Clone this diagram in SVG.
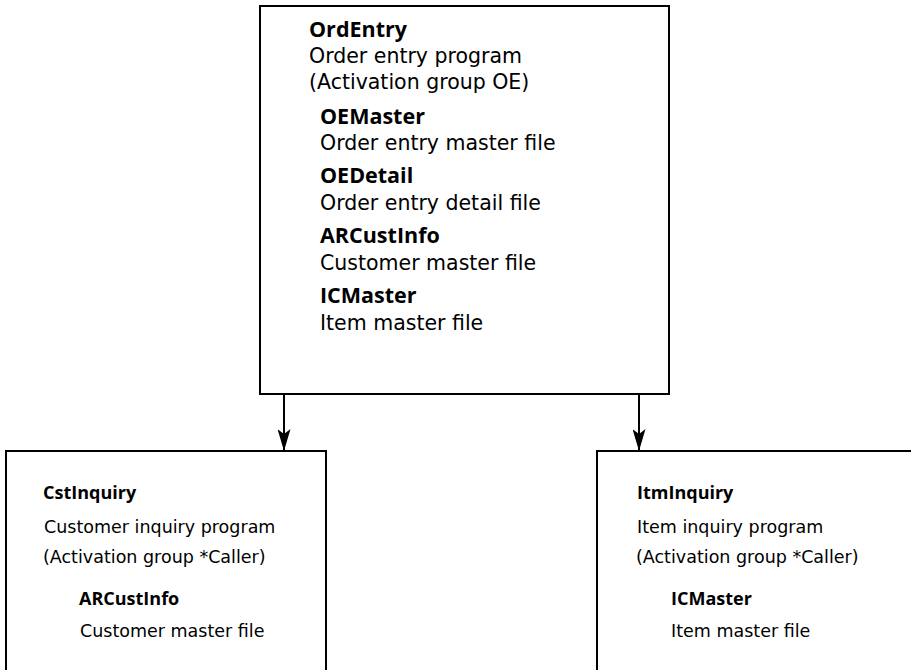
<svg xmlns="http://www.w3.org/2000/svg" width="911" height="670" viewBox="0 0 911 670">
  <defs>
    <marker id="arrow" markerWidth="22" markerHeight="13" refX="22" refY="6.5" orient="auto" markerUnits="userSpaceOnUse" viewBox="0 0 22 13">
      <path d="M0,0 L22,6.5 L0,13 L5,6.5 Z" fill="#000"/>
    </marker>
    <style>
      .box { fill: #fff; stroke: #000; stroke-width: 2; }
      .link { stroke: #000; stroke-width: 2; fill: none; }
      text { font-family: "DejaVu Sans", "Noto Sans", sans-serif; fill: #000; }
      .t { font-size: 20.5px; }
      .s { font-size: 17.5px; }
      .tb, .sb { font-family: "Open Sans", "Noto Sans", sans-serif; font-weight: bold; }
      .tb { font-size: 21.5px; }
      .sb { font-size: 18px; }
    </style>
  </defs>

  <g id="connectors">
    <path class="link" d="M284,394 L284,451" marker-end="url(#arrow)"/>
    <path class="link" d="M639,394 L639,451" marker-end="url(#arrow)"/>
  </g>

  <g id="ordentry">
    <rect class="box" x="260" y="6" width="409" height="388"/>
    <text class="tb" x="309" y="37">OrdEntry</text>
    <text class="t" x="309" y="63">Order entry program</text>
    <text class="t" x="309" y="89">(Activation group OE)</text>
    <text class="tb" x="320" y="124">OEMaster</text>
    <text class="t" x="320" y="150">Order entry master file</text>
    <text class="tb" x="320" y="183">OEDetail</text>
    <text class="t" x="320" y="210">Order entry detail file</text>
    <text class="tb" x="320" y="243">ARCustInfo</text>
    <text class="t" x="320" y="270">Customer master file</text>
    <text class="tb" x="320" y="303">ICMaster</text>
    <text class="t" x="320" y="330">Item master file</text>
  </g>

  <g id="cstinquiry">
    <path class="box" d="M6,672 L6,451 L326,451 L326,672"/>
    <text class="sb" x="43" y="499">CstInquiry</text>
    <text class="s" x="44" y="533">Customer inquiry program</text>
    <text class="s" x="43" y="563">(Activation group *Caller)</text>
    <text class="sb" x="79" y="605">ARCustInfo</text>
    <text class="s" x="80" y="637">Customer master file</text>
  </g>

  <g id="itminquiry">
    <path class="box" d="M597,672 L597,451 L913,451"/>
    <text class="sb" x="637" y="499">ItmInquiry</text>
    <text class="s" x="637" y="533">Item inquiry program</text>
    <text class="s" x="636" y="563">(Activation group *Caller)</text>
    <text class="sb" x="671" y="605">ICMaster</text>
    <text class="s" x="671" y="637">Item master file</text>
  </g>
</svg>
